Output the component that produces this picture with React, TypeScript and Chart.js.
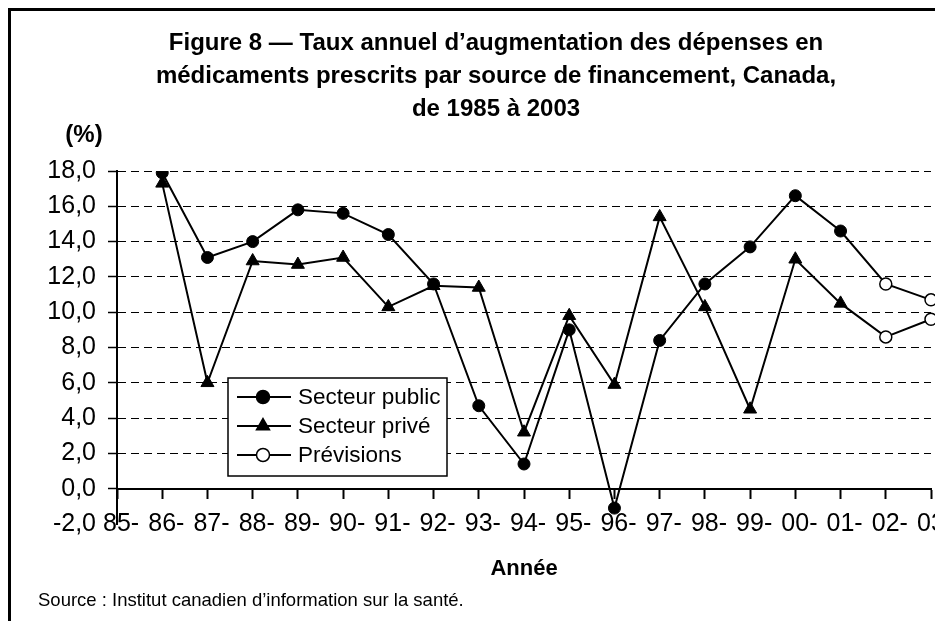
import React, { useEffect, useRef } from 'react';
import { Chart, registerables } from 'chart.js';

Chart.register(...registerables);

// ---- data ----
const yearTicks = ['85', '86', '87', '88', '89', '90', '91', '92', '93', '94', '95', '96', '97', '98', '99', '00', '01', '02', '03'];
const publicSector = [null, 17.9, 13.1, 14.0, 15.8, 15.6, 14.4, 11.6, 4.7, 1.4, 9.0, -1.1, 8.4, 11.6, 13.7, 16.6, 14.6, 11.6, 10.7];
const privateSector = [null, 17.3, 6.0, 12.9, 12.7, 13.1, 10.3, 11.5, 11.4, 3.2, 9.8, 5.9, 15.4, 10.3, 4.5, 13.0, 10.5, 8.6, 9.6];
const forecastYears = ['02', '03'];
const legendLabels = ['Secteur public', 'Secteur privé', 'Prévisions'];
const yMin = -2;
const yMax = 18;
const yStep = 2;
const titleLines = [
  'Figure 8 \u2014 Taux annuel d\u2019augmentation des dépenses en',
  'médicaments prescrits par source de financement, Canada,',
  'de 1985 à 2003',
];
const unitLabel = '(%)';
const xAxisTitle = 'Année';
const sourceNote = 'Source : Institut canadien d\u2019information sur la santé.';

const FONT = '"Liberation Sans", Arial, sans-serif';

const isForecast = yearTicks.map((y) => forecastYears.includes(y));

function drawMarker(ctx: CanvasRenderingContext2D, kind: string, x: number, y: number) {
  ctx.save();
  ctx.lineWidth = 1.5;
  ctx.strokeStyle = '#000';
  ctx.beginPath();
  if (kind === 'triangle') {
    const r = 7.5;
    ctx.moveTo(x, y - r);
    ctx.lineTo(x + r * 0.866, y + r * 0.5);
    ctx.lineTo(x - r * 0.866, y + r * 0.5);
    ctx.closePath();
    ctx.fillStyle = '#000';
  } else {
    ctx.arc(x, y, 6.5, 0, Math.PI * 2);
    ctx.fillStyle = kind === 'open' ? '#fff' : '#000';
  }
  ctx.fill();
  ctx.stroke();
  ctx.restore();
}

const extrasPlugin = {
  id: 'extras',
  afterLayout(chart: any) {
    // let the value-axis labels extend into the left padding without being clipped
    const y = chart.scales.y;
    if (y) y.left = 0;
  },
  afterDraw(chart: any) {
    const ctx = chart.ctx as CanvasRenderingContext2D;
    const area = chart.chartArea;
    ctx.save();
    ctx.fillStyle = '#000';

    // unit label above the value axis
    ctx.font = `bold 24px ${FONT}`;
    ctx.textAlign = 'center';
    ctx.textBaseline = 'middle';
    ctx.fillText(unitLabel, area.left - 33, area.top - 36);

    // source note
    ctx.font = `18.5px ${FONT}`;
    ctx.textAlign = 'left';
    ctx.textBaseline = 'alphabetic';
    ctx.fillText(sourceNote, 30, chart.height - 15);

    // legend
    const bx = area.left + 111;
    const by = area.top + 207;
    const bw = 219;
    const bh = 98;
    ctx.fillStyle = '#fff';
    ctx.fillRect(bx, by, bw, bh);
    ctx.strokeStyle = '#000';
    ctx.lineWidth = 1.5;
    ctx.strokeRect(bx, by, bw, bh);
    const kinds = ['filled', 'triangle', 'open'];
    const rows = [19, 48, 77];
    ctx.font = `22.5px ${FONT}`;
    ctx.textBaseline = 'middle';
    ctx.textAlign = 'left';
    legendLabels.forEach((label, i) => {
      const y = by + rows[i];
      ctx.strokeStyle = '#000';
      ctx.lineWidth = 2;
      ctx.beginPath();
      ctx.moveTo(bx + 9, y);
      ctx.lineTo(bx + 63, y);
      ctx.stroke();
      drawMarker(ctx, kinds[i], bx + 35, y);
      ctx.fillStyle = '#000';
      ctx.fillText(label, bx + 70, y + 1);
    });
    ctx.restore();
  },
};

export default function App() {
  const ref = useRef<HTMLCanvasElement>(null);

  useEffect(() => {
    if (!ref.current) return;
    Chart.defaults.color = '#000';
    const chart = new Chart(ref.current, {
      type: 'line',
      data: {
        labels: yearTicks,
        datasets: [
          {
            label: legendLabels[0],
            data: publicSector,
            borderColor: '#000',
            borderWidth: 2,
            tension: 0,
            pointStyle: 'circle',
            pointRadius: 6,
            pointBackgroundColor: isForecast.map((f) => (f ? '#fff' : '#000')),
            pointBorderColor: '#000',
            pointBorderWidth: isForecast.map((f) => (f ? 1.5 : 1)),
          },
          {
            label: legendLabels[1],
            data: privateSector,
            borderColor: '#000',
            borderWidth: 2,
            tension: 0,
            pointStyle: isForecast.map((f) => (f ? 'circle' : 'triangle')),
            pointRadius: isForecast.map((f) => (f ? 6 : 7.5)),
            pointBackgroundColor: isForecast.map((f) => (f ? '#fff' : '#000')),
            pointBorderColor: '#000',
            pointBorderWidth: isForecast.map((f) => (f ? 1.5 : 1)),
          },
        ],
      },
      options: {
        responsive: false,
        animation: false,
        layout: { padding: { left: 53, right: 11, top: 0, bottom: 0 } },
        plugins: {
          legend: { display: false },
          tooltip: { enabled: false },
          title: {
            display: true,
            text: titleLines,
            color: '#000',
            font: { family: FONT, size: 24, weight: 'bold', lineHeight: 1.375 },
            padding: { top: 18.5, bottom: 45.5 },
          },
        },
        scales: {
          x: {
            type: 'category',
            position: 'bottom',
            grid: { display: false, drawTicks: false },
            border: { display: false },
            ticks: {
              autoSkip: false,
              maxRotation: 0,
              minRotation: 0,
              align: 'start',
              labelOffset: -14,
              mirror: true,
              padding: -15,
              color: '#000',
              font: { family: FONT, size: 25 },
              callback: (_v: any, i: number) => yearTicks[i] + (i < yearTicks.length - 1 ? '-' : ''),
            },
            title: {
              display: true,
              text: xAxisTitle,
              color: '#000',
              font: { family: FONT, size: 22, weight: 'bold' },
              padding: { top: 0, bottom: 39 },
            },
            afterFit: (s: any) => {
              s.height = 97;
              s.paddingLeft = 0;
              s.paddingRight = 0;
            },
          },
          x0: {
            type: 'category',
            axis: 'x',
            position: { y: 0 },
            grid: {
              display: true,
              drawOnChartArea: false,
              drawTicks: true,
              tickLength: 9,
              tickColor: '#000',
              tickWidth: 2,
            },
            border: { display: true, color: '#000', width: 2 },
            ticks: { display: false },
            afterFit: (s: any) => {
              s.height = 0;
              s.paddingLeft = 0;
              s.paddingRight = 0;
            },
          },
          y: {
            type: 'linear',
            min: yMin,
            max: yMax,
            grid: {
              display: true,
              drawOnChartArea: true,
              drawTicks: true,
              tickLength: 9,
              lineWidth: 1,
              color: (c: any) => (c.tick && c.tick.value > 0 ? '#000' : 'rgba(0,0,0,0)'),
              tickColor: (c: any) => (c.tick && c.tick.value === yMin ? 'rgba(0,0,0,0)' : '#000'),
              tickWidth: 1.5,
              tickBorderDash: [],
            },
            border: { display: true, color: '#000', width: 2, dash: [8, 5] },
            ticks: {
              stepSize: yStep,
              padding: 12,
              color: '#000',
              font: { family: FONT, size: 25 },
              callback: (v: any) => Number(v).toFixed(1).replace('.', ','),
            },
            afterFit: (s: any) => {
              s.width = 56;
            },
          },
        },
      },
      plugins: [extrasPlugin],
    } as any);
    return () => chart.destroy();
  }, []);

  return (
    <div style={{ position: 'relative', width: 934, height: 613 }}>
      <div
        style={{
          position: 'absolute',
          left: 0,
          top: 0,
          width: 932,
          height: 613,
          boxSizing: 'border-box',
          borderStyle: 'solid',
          borderColor: '#000',
          borderWidth: '3px 3px 0 3px',
        }}
      />
      <canvas ref={ref} width={934} height={613} style={{ position: 'absolute', left: 0, top: 0 }} />
    </div>
  );
}
